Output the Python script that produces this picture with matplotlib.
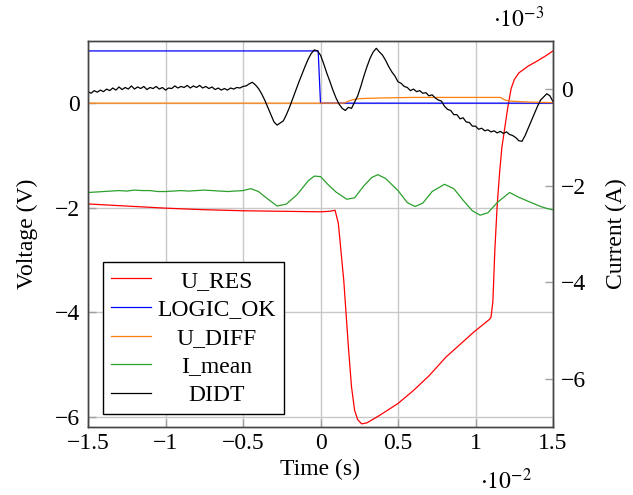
import matplotlib
matplotlib.use("Agg")
import matplotlib.pyplot as plt
from matplotlib.ticker import FixedLocator, FuncFormatter

# * Data (time in 1e-2 s, voltage in V, current in 1e-3 A)
ures_t = [-1.5, -1.25, -1.0, -0.75, -0.5, -0.25, 0.0, 0.06, 0.094, 0.115, 0.15, 0.18, 0.20, 0.22,
          0.24, 0.266, 0.30, 0.38, 0.50, 0.60, 0.70, 0.81, 0.90, 0.99, 1.09, 1.10, 1.112, 1.125,
          1.14, 1.155, 1.17, 1.19, 1.21, 1.23, 1.25, 1.28, 1.34, 1.40, 1.45, 1.50]
ures_v = [-1.93, -1.97, -2.01, -2.04, -2.06, -2.07, -2.08, -2.07, -2.05, -2.30, -3.39, -4.67, -5.43, -5.88,
          -6.06, -6.14, -6.12, -5.98, -5.75, -5.50, -5.22, -4.86, -4.62, -4.38, -4.14, -4.10, -3.80, -2.80,
          -1.95, -1.35, -0.85, -0.45, -0.05, 0.28, 0.45, 0.58, 0.71, 0.81, 0.90, 1.00]

logic_t = [-1.5, -0.015, 0.0, 1.5]
logic_v = [1.0, 1.0, 0.0, 0.0]

udiff_t = [-1.5, 0.15, 0.19, 0.23, 0.28, 0.40, 0.60, 0.90, 1.16, 1.19, 1.22, 1.28, 1.35, 1.5]
udiff_v = [0.0, 0.0, 0.05, 0.08, 0.09, 0.10, 0.11, 0.11, 0.11, 0.06, 0.04, 0.03, 0.02, 0.01]

imean_t = [-1.5, -1.45, -1.4, -1.35, -1.3, -1.25, -1.2, -1.15, -1.1, -1.05, -1.0, -0.95, -0.9, -0.85,
           -0.8, -0.75, -0.7, -0.65, -0.6, -0.55, -0.5, -0.45, -0.40, -0.35, -0.28, -0.22, -0.15, -0.08,
           -0.04, 0.0, 0.05, 0.10, 0.17, 0.22, 0.28, 0.33, 0.37, 0.42, 0.50, 0.56, 0.61, 0.66, 0.72,
           0.80, 0.86, 0.92, 0.98, 1.03, 1.08, 1.14, 1.22, 1.28, 1.36, 1.42, 1.46, 1.50]
imean_v = [-2.14, -2.13, -2.12, -2.11, -2.10, -2.11, -2.09, -2.10, -2.10, -2.12, -2.12, -2.11, -2.10, -2.11,
           -2.10, -2.09, -2.10, -2.11, -2.12, -2.11, -2.10, -2.06, -2.12, -2.25, -2.42, -2.38, -2.18, -1.90,
           -1.80, -1.81, -1.98, -2.13, -2.28, -2.25, -2.00, -1.83, -1.77, -1.85, -2.10, -2.35, -2.43, -2.36, -2.12,
           -1.97, -2.06, -2.30, -2.52, -2.61, -2.56, -2.35, -2.14, -2.24, -2.35, -2.43, -2.47, -2.50]

didt_t = [-1.50, -1.48, -1.46, -1.44, -1.42, -1.40, -1.38, -1.36, -1.34, -1.32, -1.30, -1.28, -1.26, -1.24,
          -1.22, -1.20, -1.18, -1.16, -1.14, -1.12, -1.10, -1.08, -1.06, -1.04, -1.02, -1.00, -0.98, -0.96,
          -0.94, -0.92, -0.90, -0.88, -0.86, -0.84, -0.82, -0.80, -0.78, -0.76, -0.74, -0.72, -0.70, -0.68,
          -0.66, -0.64, -0.62, -0.60, -0.58, -0.56, -0.54, -0.52, -0.50, -0.48, -0.46, -0.44, -0.42, -0.40,
          -0.38, -0.36, -0.34, -0.32, -0.30, -0.28, -0.26, -0.24, -0.22, -0.20, -0.18, -0.16, -0.14, -0.12,
          -0.10, -0.08, -0.06, -0.04, -0.02, 0.00, 0.02, 0.04, 0.06, 0.08, 0.10, 0.12, 0.14, 0.16,
          0.18, 0.20, 0.22, 0.24, 0.26, 0.28, 0.30, 0.32, 0.34, 0.36, 0.38, 0.40, 0.42, 0.44,
          0.46, 0.48, 0.50, 0.52, 0.54, 0.56, 0.58, 0.60, 0.62, 0.64, 0.66, 0.68, 0.70, 0.72,
          0.74, 0.76, 0.78, 0.80, 0.82, 0.84, 0.86, 0.88, 0.90, 0.92, 0.94, 0.96, 0.98, 1.00,
          1.02, 1.04, 1.06, 1.08, 1.10, 1.12, 1.14, 1.16, 1.18, 1.20, 1.22, 1.24, 1.26, 1.28,
          1.30, 1.32, 1.34, 1.36, 1.38, 1.40, 1.42, 1.44, 1.46, 1.48, 1.50]
didt_v = [0.22, 0.19, 0.24, 0.21, 0.25, 0.22, 0.27, 0.24, 0.29, 0.25, 0.31, 0.26, 0.30, 0.27,
          0.33, 0.27, 0.31, 0.28, 0.32, 0.26, 0.30, 0.28, 0.32, 0.27, 0.30, 0.25, 0.29, 0.28,
          0.33, 0.29, 0.32, 0.30, 0.34, 0.29, 0.33, 0.30, 0.34, 0.29, 0.32, 0.28, 0.31, 0.26,
          0.29, 0.25, 0.28, 0.25, 0.29, 0.27, 0.30, 0.29, 0.32, 0.33, 0.37, 0.40, 0.35, 0.28,
          0.18, 0.06, -0.08, -0.22, -0.36, -0.42, -0.38, -0.34, -0.22, -0.08, 0.08, 0.24, 0.40, 0.55,
          0.70, 0.84, 0.95, 1.02, 1.00, 0.92, 0.76, 0.58, 0.42, 0.25, 0.10, -0.02, -0.10, -0.14,
          -0.08, -0.10, 0.02, 0.14, 0.32, 0.52, 0.70, 0.86, 0.98, 1.05, 0.98, 0.92, 0.82, 0.70,
          0.60, 0.52, 0.41, 0.38, 0.32, 0.30, 0.24, 0.27, 0.22, 0.24, 0.19, 0.20, 0.14, 0.16,
          0.10, 0.06, 0.04, -0.06, -0.12, -0.14, -0.22, -0.22, -0.30, -0.28, -0.36, -0.37, -0.44, -0.44,
          -0.50, -0.48, -0.53, -0.51, -0.55, -0.53, -0.57, -0.54, -0.58, -0.55, -0.60, -0.62, -0.66, -0.72,
          -0.73, -0.62, -0.48, -0.34, -0.20, -0.06, 0.06, 0.12, 0.18, 0.14, 0.03]

x_ticks = [-1.5, -1.0, -0.5, 0.0, 0.5, 1.0, 1.5]
volt_ticks = [-6, -4, -2, 0]
curr_ticks = [-6, -4, -2, 0]

# * Style
plt.rcParams['font.family'] = ['Liberation Serif', 'DejaVu Serif']
plt.rcParams['mathtext.fontset'] = 'stix'
plt.rcParams['font.size'] = 17

fig = plt.figure(figsize=(6.33, 4.95), dpi=100)
ax = fig.add_axes([88 / 633, 1 - 427 / 495, 465 / 633, 386 / 495])
ax2 = ax.twinx()

lw = 0.9
l1, = ax.plot(ures_t, ures_v, color='#ff0000', lw=lw, label='U_RES')
l2, = ax.plot(logic_t, logic_v, color='#0000ff', lw=lw, label='LOGIC_OK')
l3, = ax.plot(udiff_t, udiff_v, color='#ff7f0e', lw=lw, label='U_DIFF')
l5, = ax.plot(didt_t, didt_v, color='black', lw=lw, label='DIDT')
l4, = ax2.plot(imean_t, imean_v, color='#2ca02c', lw=lw, label='I_mean')

ax.set_xlim(-1.5, 1.5)
ax.set_ylim(-6.2, 1.19)
ax2.set_ylim(-7.0, 1.0)

fmt = FuncFormatter(lambda v, p: ('%g' % v).replace('-', '\u2212'))
ax.xaxis.set_major_locator(FixedLocator(x_ticks))
ax.yaxis.set_major_locator(FixedLocator(volt_ticks))
ax2.yaxis.set_major_locator(FixedLocator(curr_ticks))
for a in (ax.xaxis, ax.yaxis, ax2.yaxis):
    a.set_major_formatter(fmt)

ax.grid(True, color='#c8c8c8', lw=1.0)
ax.set_axisbelow(True)
ax.tick_params(direction='in', length=6, width=1, color='#a0a0a0', pad=6)
ax.tick_params(axis='x', pad=4)
ax2.tick_params(direction='in', length=6, width=1, color='#a0a0a0', pad=6)
for a in (ax, ax2):
    for s in a.spines.values():
        s.set_color('#444444')
        s.set_linewidth(1.0)

ax.set_xlabel('Time (s)', labelpad=4)
ax.set_ylabel('Voltage (V)', labelpad=12)
ax2.set_ylabel('Current (A)', labelpad=14)

fig.text(493 / 633, 1 - 27 / 495, r'$\cdot10^{-3}$', ha='left', va='baseline', fontsize=17)
fig.text(480 / 633, 1 - 489 / 495, r'$\cdot10^{-2}$', ha='left', va='baseline', fontsize=17)

leg = ax2.legend([l1, l2, l3, l4, l5], ['U_RES', 'LOGIC_OK', 'U_DIFF', 'I_mean', 'DIDT'],
                 loc='lower left', bbox_to_anchor=(0.032, 0.033), borderaxespad=0,
                 fancybox=False, edgecolor='black', framealpha=1, handlelength=1.7,
                 handletextpad=0.25, borderpad=0.35, labelspacing=0.3)
leg.get_frame().set_linewidth(1.0)

# center the legend texts like pgfplots does
fig.canvas.draw()
renderer = fig.canvas.get_renderer()
texts = leg.get_texts()
widths = [t.get_window_extent(renderer).width for t in texts]
maxw = max(widths)
for t, w in zip(texts, widths):
    t.set_position(((maxw - w) / 2, 0))

fig.savefig('out.png', dpi=100)
